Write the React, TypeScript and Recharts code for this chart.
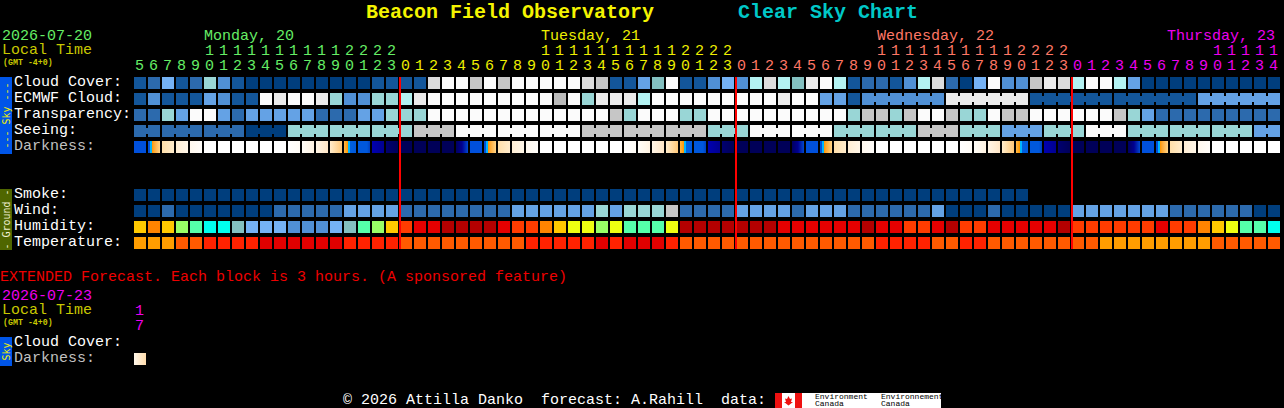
import React from "react";
import { ScatterChart, Scatter, XAxis, YAxis } from "recharts";

const MONO = "'Liberation Mono', 'DejaVu Sans Mono', monospace";

// sky colour scale, dark blue (good) to white (bad)
const skyColors = [
  "#003e7d", "#13569a", "#2c6aad", "#5090d5", "#64a2e5", "#75b2f5", "#83c0c0",
  "#99d6d6", "#b3f2f2", "#bbbbbb", "#c6c6c6", "#dcdcdc", "#ebebeb", "#fbfbfb",
];

const hourLabels = [
  5, 6, 7, 8, 9, 10, 11, 12, 13, 14, 15, 16, 17, 18, 19, 20, 21, 22, 23,
  0, 1, 2, 3, 4, 5, 6, 7, 8, 9, 10, 11, 12, 13, 14, 15, 16, 17, 18, 19, 20, 21, 22, 23,
  0, 1, 2, 3, 4, 5, 6, 7, 8, 9, 10, 11, 12, 13, 14, 15, 16, 17, 18, 19, 20, 21, 22, 23,
  0, 1, 2, 3, 4, 5, 6, 7, 8, 9, 10, 11, 12, 13, 14,
];
const dayLengths = [19, 24, 24, 15];
const dayColors = ["#66ee66", "#eeee00", "#ff7766", "#ee00ee"];
const midnights = [19, 43, 67];

const cloudCover = [
  1, 2, 5, 1, 2, 7, 3, 1, 0, 0, 0, 0, 0, 0, 0, 0, 0, 1, 1, 1, 1,
  11, 13, 13, 10, 13, 10, 13, 13, 13, 13, 13, 11, 10, 1, 1, 4, 6, 13, 1, 1, 3, 5, 3, 8, 11, 8, 6, 12, 13, 8, 1,
  2, 2, 1, 3, 8, 11, 2, 0, 5, 13, 3, 3, 10, 12, 11, 8, 13, 13, 8, 4, 0, 0, 0, 0, 0, 0, 0, 0, 0, 0,
];
const ecmwfCloud = [
  1, 3, 1, 1, 1, 4, 3, 1, 1, 13, 12, 13, 13, 12, 7, 3, 3, 7, 7, 8, 12,
  13, 13, 13, 13, 13, 13, 13, 13, 13, 9, 13, 7, 12, 12, 12, 8, 13, 13, 13, 13, 13, 13, 13, 13, 13, 12, 13, 13, 4, 4, 1,
  3, 3, 3, 3, 3, 3, 12, 12, 12, 12, 12, 12, 1, 1, 1, 1, 1, 1, 1, 1, 1, 1, 1, 1, 4, 4, 4, 4, 4, 4,
];
const ecmwfRuns = [
  1, 1, 1, 1, 1, 1, 1, 1, 1, 1, 1, 1, 1, 1, 1, 1, 1, 1, 1, 1, 1, 1, 1, 1, 1, 1,
  1, 1, 1, 1, 1, 1, 1, 1, 1, 1, 1, 1, 1, 1, 1, 1, 1, 1, 1, 1, 1, 1, 1, 1, 1, 1,
  6, 6, 6, 6, 6,
];
const transparency = [
  2, 2, 7, 4, 13, 13, 4, 2, 4, 4, 4, 4, 4, 2, 2, 2, 4, 4, 7, 7, 7,
  13, 13, 13, 13, 13, 13, 13, 13, 13, 13, 13, 13, 13, 10, 7, 13, 13, 13, 7, 7, 13, 13, 13, 13, 13, 13, 13, 13, 13, 13, 7,
  10, 10, 7, 10, 13, 13, 10, 7, 7, 13, 10, 10, 13, 13, 13, 13, 13, 13, 10, 7, 4, 2, 2, 2, 2, 2, 2, 2, 2, 2,
];
// seeing comes in 3 hour blocks
const seeingBlocks = [2, 2, 2, 0, 7, 7, 7, 10, 13, 13, 13, 10, 10, 10, 7, 13, 13, 7, 7, 10, 7, 4, 7, 13, 7, 7, 7, 4];
const seeingRuns = [2, 3, 3, 3, 3, 3, 3, 3, 3, 3, 3, 3, 3, 3, 3, 3, 3, 3, 3, 3, 3, 3, 3, 3, 3, 3, 3, 2];

// darkness: each hour is a left to right gradient
const darkGradients: Record<string, [number, string][]> = {
  W: [[0, "#ffffff"], [1, "#ffffff"]],
  N: [[0, "#000058"], [1, "#000058"]],
  S0: [[0, "#ffffff"], [1, "#fffcf6"]],
  S1: [[0, "#fffdf8"], [1, "#fff3e2"]],
  S2: [[0, "#fff5e6"], [1, "#ffe6c6"]],
  S3: [[0, "#ffeccc"], [1, "#ffc878"]],
  S4: [[0, "#ffb848"], [0.33, "#ff9800"], [0.34, "#00b4ff"], [0.5, "#00b4ff"], [0.51, "#0060e0"], [1, "#0058dc"]],
  S5: [[0, "#0058dc"], [0.75, "#0058dc"], [1, "#0040c0"]],
  S6: [[0, "#0000b0"], [1, "#000090"]],
  S7: [[0, "#000070"], [1, "#000058"]],
  R0: [[0, "#000060"], [0.5, "#000090"], [1, "#0048d0"]],
  R1: [[0, "#0050dc"], [1, "#0050dc"]],
  R2: [[0, "#0050dc"], [0.16, "#0050dc"], [0.17, "#00b4ff"], [0.33, "#00b4ff"], [0.34, "#ff9800"], [0.5, "#ffa830"], [1, "#ffd488"]],
  R3: [[0, "#ffdfaa"], [1, "#ffeccc"]],
  R4: [[0, "#ffeed4"], [1, "#fff6e8"]],
  R5: [[0, "#fff8ee"], [1, "#fffdfa"]],
  E: [[0, "#fff8ea"], [1, "#ffdcac"]],
};
const darkness = [
  "R1", "R2", "R3", "R4", "R5", "W", "W", "W", "W", "W", "W", "S0", "S1", "S2", "S3", "S4", "S5", "S6", "S7",
  "N", "N", "N", "N", "R0", "R1", "R2", "R3", "R4", "R5", "W", "W", "W", "W", "W", "W", "S0", "S1", "S2", "S3", "S4", "S5", "S6", "S7",
  "N", "N", "N", "N", "R0", "R1", "R2", "R3", "R4", "R5", "W", "W", "W", "W", "W", "W", "S0", "S1", "S2", "S3", "S4", "S5", "S6", "S7",
  "N", "N", "N", "N", "R0", "R1", "R2", "R3", "R4", "R5", "W", "W", "W", "W", "W",
];

const smoke = [
  0, 0, 0, 0, 0, 0, 0, 0, 0, 0, 0, 0, 0, 0, 0, 0, 0, 0, 0, 0, 0, 0, 0, 0, 0, 0, 0, 0, 0, 0, 0, 0,
  0, 0, 0, 0, 0, 0, 0, 0, 0, 0, 0, 0, 0, 0, 0, 0, 0, 0, 0, 0, 0, 0, 0, 0, 0, 0, 0, 0, 0, 0, 0, 0,
];
const wind = [
  0, 0, 2, 0, 0, 0, 0, 0, 0, 0, 2, 2, 2, 2, 2, 4, 4, 4, 4, 2, 2,
  2, 2, 2, 2, 2, 2, 4, 4, 4, 4, 4, 4, 7, 4, 7, 7, 7, 10, 2, 2, 2, 2, 4, 4, 4, 4, 2, 4, 4, 4, 2,
  2, 2, 2, 2, 2, 4, 0, 0, 0, 2, 0, 0, 0, 0, 0, 4, 4, 4, 4, 4, 4, 4, 2, 2, 2, 2, 2, 2, 0, 0,
];

const humidityColors = [
  "#00ffee", "#55ffaa", "#99ff66", "#eeff11", "#ffc800", "#ff8400", "#ff3c00", "#e60000", "#b40000",
  "#83c0c0", "#75b2f5", "#5090d5",
];
const humidity = [
  4, 5, 4, 2, 1, 0, 0, 9, 10, 10, 10, 11, 11, 11, 10, 9, 1, 2, 4, 6, 7,
  7, 8, 8, 8, 8, 7, 6, 6, 5, 4, 3, 3, 2, 3, 1, 1, 1, 3, 8, 8, 8, 8, 8, 8, 8, 7, 7, 7, 7, 7, 7,
  8, 7, 7, 6, 6, 7, 8, 6, 6, 7, 7, 7, 7, 7, 8, 6, 6, 6, 6, 6, 6, 7, 6, 6, 5, 4, 3, 1, 1, 0,
];
const temperatureColors = ["#ff9d00", "#ff5a00", "#ff2200", "#e00000"];
const temperature = [
  0, 0, 0, 1, 1, 2, 2, 2, 2, 3, 3, 3, 3, 3, 3, 2, 2, 2, 2, 1, 1,
  1, 1, 1, 1, 1, 1, 1, 2, 2, 2, 2, 2, 3, 2, 3, 3, 3, 2, 1, 1, 1, 1, 1, 1, 1, 1, 1, 1, 1, 1, 1,
  1, 2, 2, 2, 2, 1, 1, 2, 2, 1, 1, 1, 1, 1, 1, 1, 1, 0, 0, 0, 0, 0, 0, 0, 0, 1, 1, 1, 1, 1,
];

const rowLabels: Record<number, string> = {
  0: "Cloud Cover:",
  1: "ECMWF Cloud:",
  2: "Transparency:",
  3: "Seeing:",
  4: "Darkness:",
  7: "Smoke:",
  8: "Wind:",
  9: "Humidity:",
  10: "Temperature:",
};
const rowTicks = [0, 1, 2, 3, 4, 7, 8, 9, 10];

const extHours = [17];
const extDarkness = ["E"];
const extLabels: Record<number, string> = { 0: "Cloud Cover:", 1: "Darkness:" };

type Point = { x: number; y: number; fill: string; linked: boolean };

function toPoints(values: (number | string)[], row: number, color: (v: any) => string, runs?: number[]): Point[] {
  const links: boolean[] = [];
  (runs ?? values.map(() => 1)).forEach((n) => {
    for (let i = 0; i < n; i++) links.push(i < n - 1);
  });
  return values.map((v, i) => ({ x: i, y: row, fill: color(v), linked: links[i] }));
}

function expand(levels: number[], runs: number[]) {
  const out: number[] = [];
  levels.forEach((l, i) => {
    for (let n = 0; n < runs[i]; n++) out.push(l);
  });
  return out;
}

const sky = (v: number) => skyColors[v];
const dark = (v: string) => `url(#dk-${v})`;

// block: cx is the left edge of the hour, cy the middle of the row
function Block(props: any) {
  const { cx, cy, payload } = props;
  return (
    <g shapeRendering="crispEdges">
      <rect x={cx} y={cy - 6} width={12} height={12} fill={payload.fill} />
      {payload.linked && <rect x={cx + 12} y={cy - 3} width={2} height={6} fill={payload.fill} />}
    </g>
  );
}

const NoMark = () => <g />;

function dayColor(i: number) {
  let end = 0;
  for (let d = 0; d < dayLengths.length; d++) {
    end += dayLengths[d];
    if (i < end) return dayColors[d];
  }
  return dayColors[0];
}

function HourTick({ x, y, payload }: any) {
  const h = hourLabels[payload.value];
  const fill = dayColor(payload.value);
  return (
    <g fontFamily={MONO} fontSize={15} fill={fill}>
      {h >= 10 && <text x={x + 1} y={y - 12}>{Math.floor(h / 10)}</text>}
      <text x={x + 1} y={y + 3}>{h % 10}</text>
    </g>
  );
}

function ExtHourTick({ x, y, payload }: any) {
  const h = extHours[payload.value];
  return (
    <g fontFamily={MONO} fontSize={15} fill="#ee00ee">
      <text x={x + 1} y={y - 12}>{Math.floor(h / 10)}</text>
      <text x={x + 1} y={y + 3}>{h % 10}</text>
    </g>
  );
}

function RowTick({ y, payload, labels }: any) {
  const text = labels[payload.value];
  return (
    <text x={14} y={y + 2.5} fontFamily={MONO} fontSize={15} fill={text === "Darkness:" ? "#c0c0c0" : "#ffffff"}>
      {text}
    </text>
  );
}

function Defs({ prefix }: { prefix: string }) {
  return (
    <defs>
      {Object.entries(darkGradients).map(([k, stops]) => (
        <linearGradient key={k} id={`${prefix}-${k}`} x1="0" y1="0" x2="1" y2="0">
          {stops.map(([o, c], i) => (
            <stop key={i} offset={o} stopColor={c} />
          ))}
        </linearGradient>
      ))}
    </defs>
  );
}

function Label({ x, y, fill, size = 15, bold, children }: any) {
  return (
    <text x={x} y={y} fill={fill} fontFamily={MONO} fontSize={size} fontWeight={bold ? "bold" : "normal"} style={{ whiteSpace: "pre" }}>
      {children}
    </text>
  );
}

function SideText({ y, fill, children }: any) {
  return (
    <text
      transform={`translate(9.5 ${y}) rotate(-90)`}
      textAnchor="middle"
      fill={fill}
      fontFamily="'DejaVu Sans Mono', monospace"
      fontSize={10}
    >
      {children}
    </text>
  );
}

export default function App() {
  return (
    <div style={{ position: "absolute", left: 0, top: 0, width: 1284, height: 408, background: "#000", overflow: "hidden" }}>
      <div style={{ position: "absolute", left: 0, top: 0 }}>
        <ScatterChart width={1284} height={408} margin={{ top: 45, right: 2, bottom: 157, left: 0 }}>
          <Defs prefix="dk" />
          <XAxis
            type="number"
            dataKey="x"
            orientation="top"
            domain={[0, 82]}
            ticks={hourLabels.map((_, i) => i)}
            interval={0}
            height={30}
            axisLine={false}
            tickLine={false}
            tick={<HourTick />}
          />
          <YAxis
            type="number"
            dataKey="y"
            domain={[-0.5, 10.5]}
            reversed
            ticks={rowTicks}
            interval={0}
            width={134}
            axisLine={false}
            tickLine={false}
            tick={<RowTick labels={rowLabels} />}
          />
          <Scatter data={toPoints(cloudCover, 0, sky)} shape={Block} isAnimationActive={false} />
          <Scatter data={toPoints(ecmwfCloud, 1, sky, ecmwfRuns)} shape={Block} isAnimationActive={false} />
          <Scatter data={toPoints(transparency, 2, sky)} shape={Block} isAnimationActive={false} />
          <Scatter data={toPoints(expand(seeingBlocks, seeingRuns), 3, sky, seeingRuns)} shape={Block} isAnimationActive={false} />
          <Scatter data={toPoints(darkness, 4, dark)} shape={Block} isAnimationActive={false} />
          <Scatter data={toPoints(smoke, 7, sky)} shape={Block} isAnimationActive={false} />
          <Scatter data={toPoints(wind, 8, sky)} shape={Block} isAnimationActive={false} />
          <Scatter data={toPoints(humidity, 9, (v) => humidityColors[v])} shape={Block} isAnimationActive={false} />
          <Scatter data={toPoints(temperature, 10, (v) => temperatureColors[v])} shape={Block} isAnimationActive={false} />
          {/* midnight markers, a two point line series so they sit on top of the blocks */}
          {midnights.map((m) => (
            <Scatter
              key={m}
              data={[{ x: m, y: -0.375 }, { x: m, y: 10.375 }]}
              line={{ stroke: "#ff0000", strokeWidth: 2 }}
              shape={NoMark}
              isAnimationActive={false}
            />
          ))}
        </ScatterChart>
      </div>

      {/* extended forecast, one 3 hour block */}
      <div style={{ position: "absolute", left: 0, top: 290 }}>
        <ScatterChart width={1284} height={77} margin={{ top: 15, right: 2, bottom: 0, left: 0 }}>
          <Defs prefix="ex" />
          <XAxis
            type="number"
            dataKey="x"
            orientation="top"
            domain={[0, 82]}
            ticks={[0]}
            interval={0}
            height={30}
            axisLine={false}
            tickLine={false}
            tick={<ExtHourTick />}
          />
          <YAxis
            type="number"
            dataKey="y"
            domain={[-0.5, 1.5]}
            reversed
            ticks={[0, 1]}
            interval={0}
            width={134}
            axisLine={false}
            tickLine={false}
            tick={<RowTick labels={extLabels} />}
          />
          <Scatter data={toPoints(extDarkness, 1, (v) => `url(#ex-${v})`)} shape={Block} isAnimationActive={false} />
        </ScatterChart>
      </div>

      <svg width={1284} height={408} style={{ position: "absolute", left: 0, top: 0, pointerEvents: "none" }}>
        <Label x={366} y={18} fill="#f4f400" size={20} bold>Beacon Field Observatory</Label>
        <Label x={738} y={18} fill="#00c8c8" size={20} bold>Clear Sky Chart</Label>

        <Label x={2} y={40} fill="#66ee66">2026-07-20</Label>
        <Label x={2} y={54} fill="#c8c800">Local Time</Label>
        <Label x={3} y={65} fill="#c8c800" size={8.3} bold>(GMT -4+0)</Label>
        <Label x={204} y={40} fill="#66ee66">Monday, 20</Label>
        <Label x={541} y={40} fill="#eeee00">Tuesday, 21</Label>
        <Label x={877} y={40} fill="#ff7766">Wednesday, 22</Label>
        <Label x={1167} y={40} fill="#ee00ee">Thursday, 23</Label>

        <rect x={0} y={77} width={12} height={77} fill="#0055e8" />
        <SideText y={115.5} fill="#f0f000">--- Sky ---</SideText>
        <rect x={0} y={189} width={12} height={61} fill="#4f6600" />
        <SideText y={219.5} fill="#f0f0d0">- Ground -</SideText>

        <Label x={0} y={281} fill="#ee0000">EXTENDED Forecast. Each block is 3 hours. (A sponsored feature)</Label>
        <Label x={2} y={300} fill="#ee00ee">2026-07-23</Label>
        <Label x={2} y={314} fill="#c8c800">Local Time</Label>
        <Label x={3} y={325} fill="#c8c800" size={8.3} bold>(GMT -4+0)</Label>
        <rect x={0} y={337} width={12} height={29} fill="#0055e8" />
        <SideText y={351.5} fill="#f0f000">Sky</SideText>

        <Label x={343} y={404} fill="#ffffff">© 2026 Attilla Danko  forecast: A.Rahill  data:</Label>
        <g shapeRendering="crispEdges">
          <rect x={775} y={393} width={166} height={15} fill="#ffffff" />
          <rect x={775} y={393} width={7} height={15} fill="#ee1111" />
          <rect x={795} y={393} width={7} height={15} fill="#ee1111" />
        </g>
        <polygon points="788.5,396 790,399 792,398.5 791,402 793,402 788.5,405.5 784,402 786,402 785,398.5 787,399" fill="#ee1111" />
        <Label x={815} y={399} fill="#000000" size={8}>Environment</Label>
        <Label x={815} y={406} fill="#000000" size={8}>Canada</Label>
        <Label x={881} y={399} fill="#000000" size={8}>Environnement</Label>
        <Label x={881} y={406} fill="#000000" size={8}>Canada</Label>
      </svg>
    </div>
  );
}
